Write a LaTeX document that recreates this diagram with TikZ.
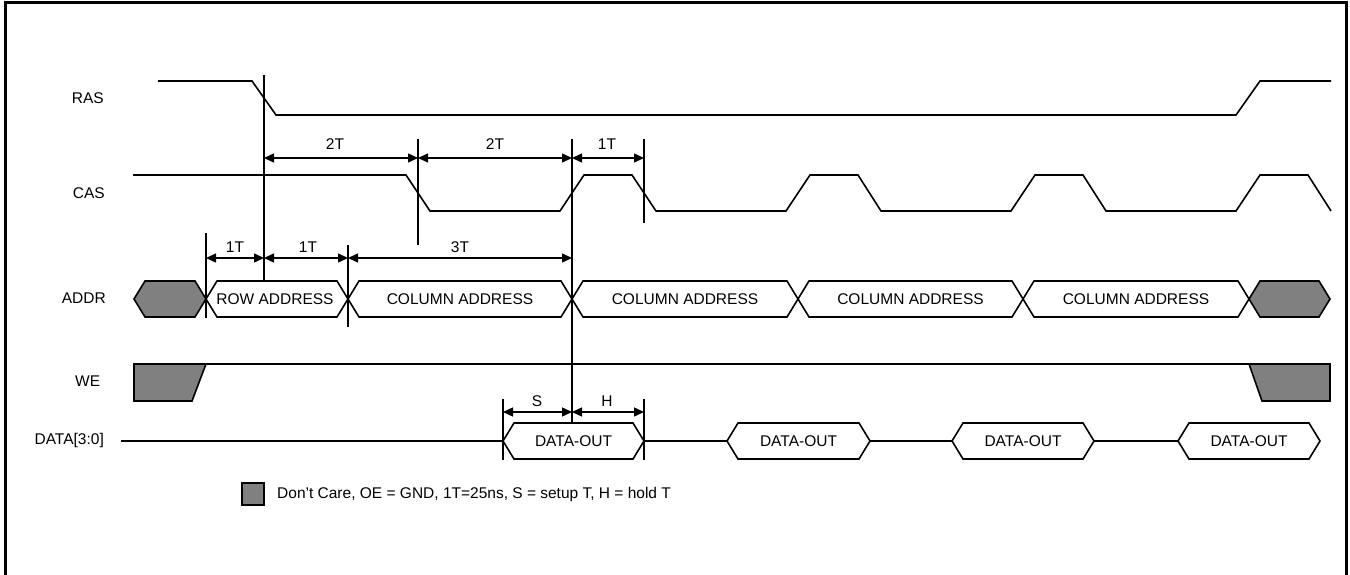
\documentclass[tikz,border=0pt]{standalone}
\usepackage{fontspec}
\setmainfont{Liberation Sans}
\usetikzlibrary{arrows.meta}
\definecolor{dcgray}{RGB}{128,128,128}
\newcommand\hexbus[4]{% x1, x2, centre y, fill
  \draw[bus,fill=#4] (#1,#3) -- ({#1+11},{#3-18}) -- ({#2-11},{#3-18}) -- (#2,#3)
     -- ({#2-11},{#3+18}) -- ({#1+11},{#3+18}) -- cycle;}
\begin{document}
\begin{tikzpicture}[x=1pt,y=-1pt,
  wave/.style={line width=1.6pt, line join=miter},
  bus/.style={line width=1.6pt, line join=miter},
  guide/.style={line width=1.6pt},
  dimline/.style={line width=1.4pt, {Triangle[length=10pt,width=9pt]}-{Triangle[length=10pt,width=9pt]}},
  lbl/.style={font=\fontsize{15.5}{18}\selectfont, inner sep=0pt},
  dontcare/.style={fill=dcgray, draw=black, line width=1.6pt, line join=miter}]
\useasboundingbox (0,0) rectangle (1350,575);
% frame
\draw[line width=3pt] (5.5,580) -- (5.5,2.5) -- (1346,2.5) -- (1346,580);

% signal names
\node[lbl, anchor=east] (ras) at (104,98) {RAS};
\node[lbl, anchor=east] (cas) at (105,193) {CAS};
\node[lbl, anchor=east] (addr) at (106,298) {ADDR};
\node[lbl, anchor=west] (we) at (75,381) {WE};
\node[lbl, anchor=east] (data) at (104,440) {DATA[3:0]};

% RAS
\draw[wave] (158,81) -- (252,81) -- (276,115) -- (1236,115) -- (1260,81) -- (1331,81);

% CAS
\draw[wave] (133,175) -- (406,175) -- (430,211) -- (560,211) -- (584,175) -- (632,175) -- (656,211)
  -- (786,211) -- (810,175) -- (858,175) -- (881,211)
  -- (1011,211) -- (1035,175) -- (1083,175) -- (1106,211)
  -- (1236,211) -- (1260,175) -- (1308,175) -- (1331,211);

% ADDR bus
\hexbus{134}{206}{299}{dcgray}
\hexbus{206}{348}{299}{white}
\hexbus{348}{572}{299}{white}
\hexbus{572}{798}{299}{white}
\hexbus{798}{1023}{299}{white}
\hexbus{1023}{1249}{299}{white}
\hexbus{1249}{1330}{299}{dcgray}
\node[lbl] (rowa) at (275,299) {ROW ADDRESS};
\node[lbl] (cola1) at (460,299) {COLUMN ADDRESS};
\node[lbl] (cola2) at (685,299) {COLUMN ADDRESS};
\node[lbl] (cola3) at (910.5,299) {COLUMN ADDRESS};
\node[lbl] (cola4) at (1136,299) {COLUMN ADDRESS};

% WE
\draw[wave] (206,364) -- (1249,364);
\draw[dontcare] (134,364) -- (206,364) -- (192,401) -- (134,401) -- cycle;
\draw[dontcare] (1249,364) -- (1330,364) -- (1330,401) -- (1262,401) -- cycle;

% DATA
\draw[wave] (121,441) -- (503,441);
\draw[wave] (644,441) -- (727,441);
\draw[wave] (870,441) -- (952,441);
\draw[wave] (1094,441) -- (1178,441);
\hexbus{503}{644}{441}{white}
\hexbus{727}{870}{441}{white}
\hexbus{952}{1094}{441}{white}
\hexbus{1178}{1320}{441}{white}
\node[lbl] (do1) at (573.5,441) {DATA-OUT};
\node[lbl] (do2) at (798.5,441) {DATA-OUT};
\node[lbl] (do3) at (1023,441) {DATA-OUT};
\node[lbl] (do4) at (1249,441) {DATA-OUT};

% timing guides
\draw[guide] (264,75) -- (264,281);
\draw[guide] (418,139) -- (418,245);
\draw[guide] (572,139) -- (572,423);
\draw[guide] (644,139) -- (644,223);
\draw[guide] (206,233) -- (206,318);
\draw[guide] (348,245) -- (348,327);
\draw[guide] (503,399) -- (503,460);
\draw[guide] (644,399) -- (644,460);

% dimension coordinates
\coordinate (a1) at (264,158); \coordinate (a2) at (418,158);
\coordinate (a3) at (572,158); \coordinate (a4) at (644,158);
\coordinate (b1) at (206,258); \coordinate (b2) at (264,258);
\coordinate (b3) at (348,258); \coordinate (b4) at (572,258);
\coordinate (c1) at (503,412); \coordinate (c2) at (572,412);
\coordinate (c3) at (644,412);

\draw[dimline] (a1) -- (a2);
\draw[dimline] (a2) -- (a3);
\draw[dimline] (a3) -- (a4);
\draw[dimline] (b1) -- (b2);
\draw[dimline] (b2) -- (b3);
\draw[dimline] (b3) -- (b4);
\draw[dimline] (c1) -- (c2);
\draw[dimline] (c2) -- (c3);

\node[lbl] (t1) at (335,144) {2T};
\node[lbl] (t2) at (495,144) {2T};
\node[lbl] (t3) at (607,144) {1T};
\node[lbl] (t4) at (235,247) {1T};
\node[lbl] (t5) at (308,247) {1T};
\node[lbl] (t6) at (460,247) {3T};
\node[lbl] (ts) at (537,401) {S};
\node[lbl] (th) at (607,401) {H};

% legend
\draw[dontcare] (242,483) rectangle (264,505);
\node[lbl, anchor=west] (legend) at (277,494) {Don't Care, OE = GND, 1T=25ns, S = setup T, H = hold T};
\end{tikzpicture}
\end{document}
